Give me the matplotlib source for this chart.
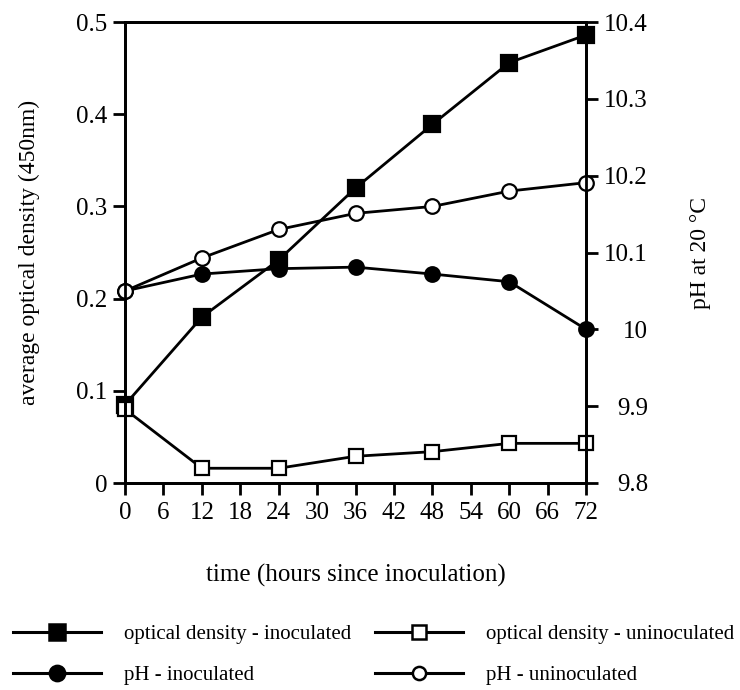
import matplotlib
matplotlib.use("Agg")
import matplotlib.pyplot as plt
from matplotlib.lines import Line2D
from matplotlib.ticker import FormatStrFormatter

plt.rcParams["font.family"] = ["Liberation Serif", "DejaVu Serif"]

# sampling times (hours since inoculation)
hours = [0, 12, 24, 36, 48, 60, 72]

# average optical density at 450 nm
od_inoculated = [0.085, 0.180, 0.242, 0.320, 0.389, 0.456, 0.486]
od_uninoculated = [0.080, 0.016, 0.016, 0.029, 0.034, 0.043, 0.043]

# pH at 20 C
ph_inoculated = [10.05, 10.072, 10.079, 10.081, 10.072, 10.062, 10.0]
ph_uninoculated = [10.05, 10.093, 10.130, 10.151, 10.160, 10.180, 10.191]

x_ticks = list(range(0, 73, 6))
od_ticks = [0, 0.1, 0.2, 0.3, 0.4, 0.5]
ph_ticks = [9.8, 9.9, 10.0, 10.1, 10.2, 10.3, 10.4]

fig = plt.figure(figsize=(7.4, 6.9), dpi=100)
ax1 = fig.add_axes([0.169, 0.300, 0.623, 0.668])
ax2 = ax1.twinx()

lw = 2.0
ms = 10.5
common = dict(color="black", linewidth=lw, clip_on=False, markeredgewidth=1.6)

ax1.plot(hours, od_inoculated, marker="s", markersize=ms + 0.5,
         markerfacecolor="black", **common)
ax1.plot(hours, od_uninoculated, marker="s", markersize=ms,
         markerfacecolor="white", **common)
ax2.plot(hours, ph_inoculated, marker="o", markersize=ms,
         markerfacecolor="black", **common)
ax2.plot(hours, ph_uninoculated, marker="o", markersize=ms,
         markerfacecolor="white", **common)

ax1.set_xlim(0, 72)
ax1.set_ylim(0, 0.5)
ax2.set_ylim(9.8, 10.4)
ax1.set_xticks(x_ticks)
ax1.set_yticks(od_ticks)
ax2.set_yticks(ph_ticks)
ax1.yaxis.set_major_formatter(FormatStrFormatter("%g"))
ax2.yaxis.set_major_formatter(FormatStrFormatter("%g"))

for ax in (ax1, ax2):
    for sp in ax.spines.values():
        sp.set_linewidth(2.0)
    ax.tick_params(direction="out", length=8.5, width=2.0, labelsize=18, pad=4)
ax1.tick_params(axis="x", labelsize=18, pad=5)

# right-hand pH labels are right-aligned
ax2.tick_params(axis="y", pad=36)
for lab in ax2.get_yticklabels():
    lab.set_horizontalalignment("right")

ax1.set_ylabel("average optical density (450nm)", fontsize=17, labelpad=26)
ax2.set_ylabel("pH at 20 \u00b0C", fontsize=17, labelpad=30)
ax1.set_xlabel("time (hours since inoculation)", fontsize=18, labelpad=29)

# legend in two columns under the plot
def handle(marker, face, size):
    return Line2D([], [], color="black", linewidth=2.2, marker=marker,
                  markersize=size, markerfacecolor=face, markeredgewidth=1.8)

leg_kw = dict(frameon=False, fontsize=15, handlelength=4.2, handletextpad=1.1,
              labelspacing=1.0, borderpad=0, borderaxespad=0, loc="center left")
fig.legend([handle("s", "black", 11), handle("o", "black", 11)],
           ["optical density - inoculated", "pH - inoculated"],
           bbox_to_anchor=(0.018, 0.051), **leg_kw)
fig.legend([handle("s", "white", 9.5), handle("o", "white", 9.5)],
           ["optical density - uninoculated", "pH - uninoculated"],
           bbox_to_anchor=(0.507, 0.051), **leg_kw)

fig.savefig("out.png", dpi=100)
